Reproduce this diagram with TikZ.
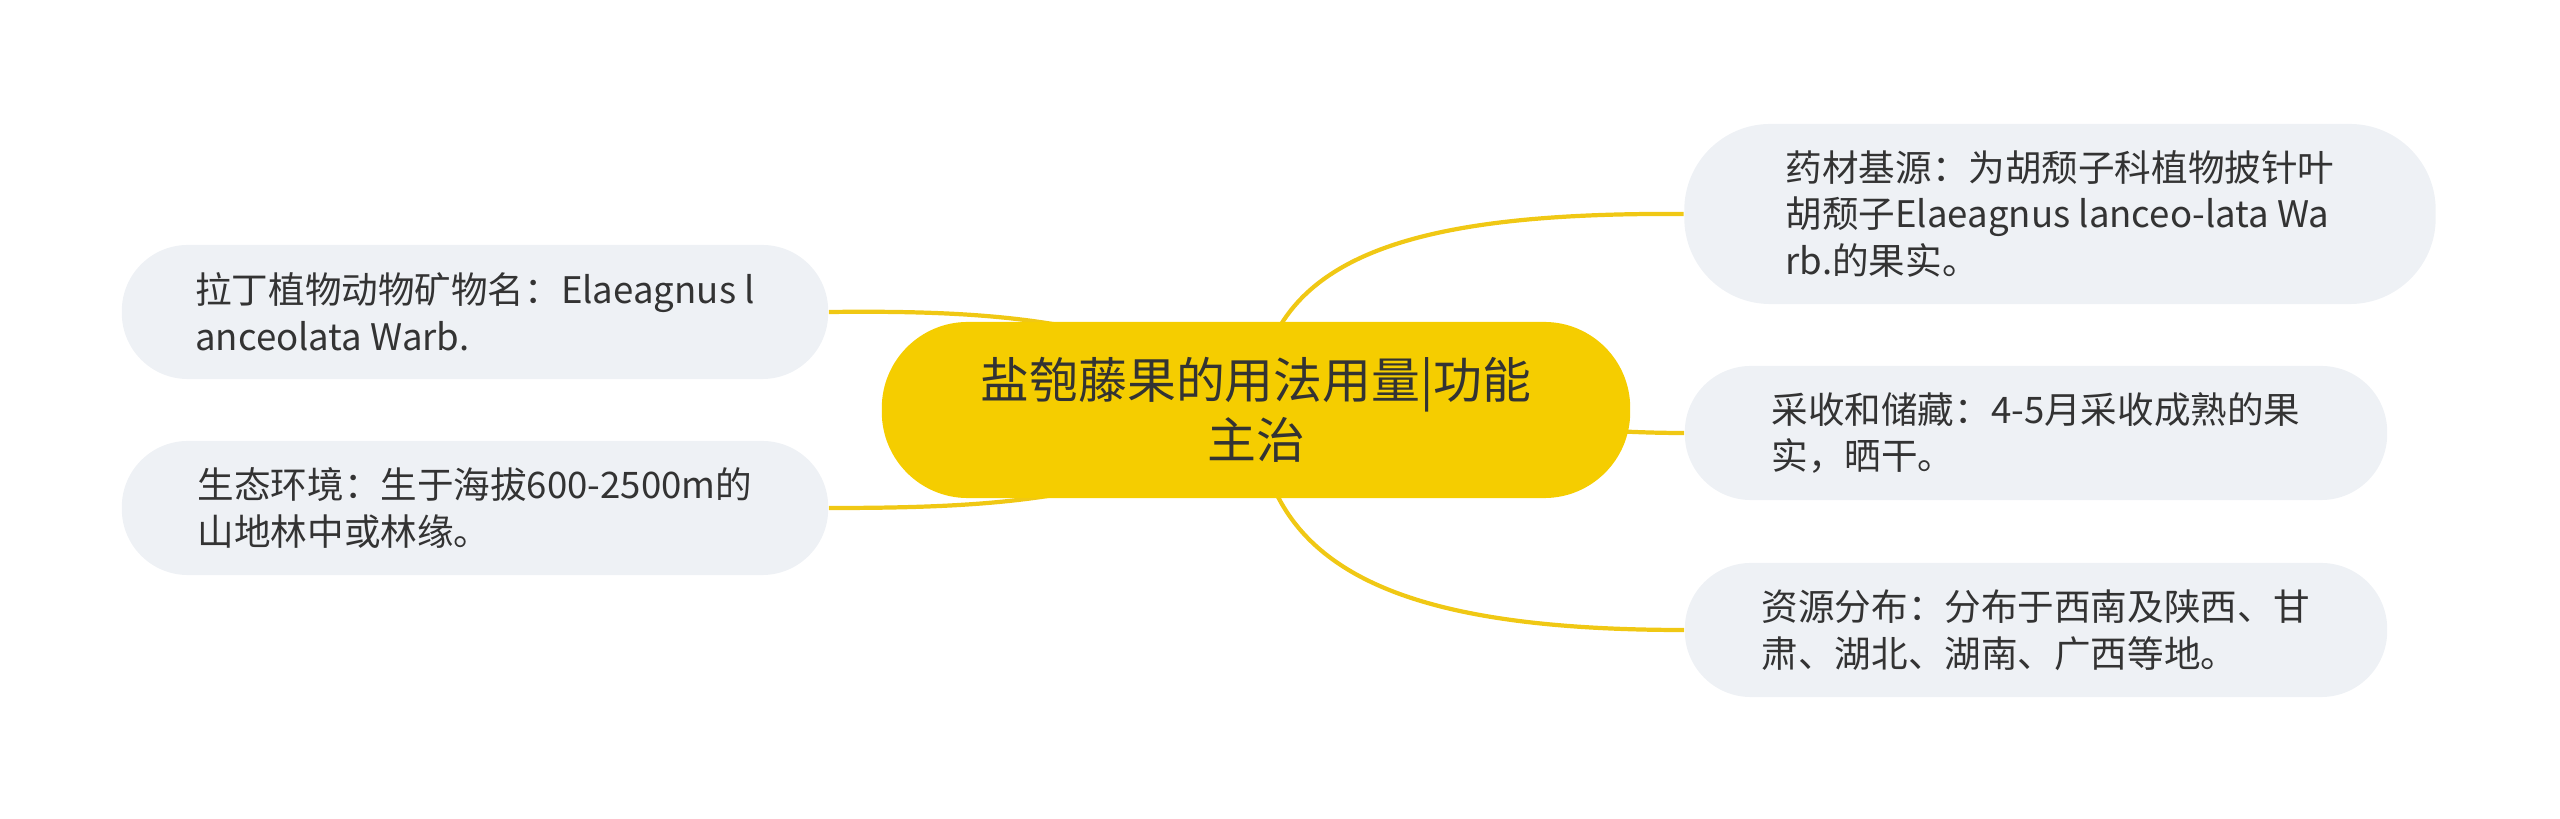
\documentclass[tikz,border=0pt]{standalone}
\usepackage{fontspec}
\usepackage{tikz}
\usetikzlibrary{positioning, backgrounds}
\newfontfamily\cjk{Noto Sans CJK SC}

\begin{document}
\begin{tikzpicture}[x=0.01cm, y=-0.01cm]

% ------------------------
% Colors
% ------------------------
\definecolor{colRoot}{RGB}{245,205,0}
\definecolor{colLeaf}{RGB}{238,241,245}
\definecolor{colLink}{RGB}{240,200,20}
\definecolor{colText}{RGB}{51,51,51}

\tikzset{
  root/.style={fill=colRoot, rounded corners=0.86cm, minimum width=7.48cm, minimum height=1.76cm,
    inner sep=0pt, align=center, text=colText, font=\cjk\fontsize{13.9}{17}\selectfont},
  leaf/.style={fill=colLeaf, rounded corners=0.66cm, minimum width=7.02cm, minimum height=1.34cm,
    inner sep=0pt, align=left, text=colText, font=\cjk\fontsize{10.4}{13.3}\selectfont},
  link/.style={draw=colLink, line width=1.2pt}
}

\useasboundingbox (0,0) rectangle (2560,819);

% ------------------------
% Centre topic
% ------------------------
\node[root] (root) at (1256,410) {盐匏藤果的用法用量|功能\\主治};

% ------------------------
% Right branches
% ------------------------
\node[leaf, minimum width=7.51cm, minimum height=1.80cm, rounded corners=0.86cm] (source) at (2060,214)
  {药材基源：为胡颓子科植物披针叶\\胡颓子Elaeagnus lanceo-lata Wa\\rb.的果实。};
\node[leaf] (harvest) at (2036,433) {采收和储藏：4-5月采收成熟的果\\实，晒干。};
\node[leaf] (spread) at (2036,630) {资源分布：分布于西南及陕西、甘\\肃、湖北、湖南、广西等地。};

% ------------------------
% Left branches
% ------------------------
\node[leaf, minimum width=7.06cm] (latin) at (475,312) {拉丁植物动物矿物名：Elaeagnus l\\anceolata Warb.};
\node[leaf, minimum width=7.06cm] (habitat) at (475,508) {生态环境：生于海拔600-2500m的\\山地林中或林缘。};

% connectors behind the nodes
\begin{scope}[on background layer]
\draw[link] (root.center) .. controls (1265,260) and (1400,212) .. (source.west);
\draw[link] (root.center) .. controls (1450,410) and (1550,433) .. (harvest.west);
\draw[link] (root.center) .. controls (1265,570) and (1400,630) .. (spread.west);
\draw[link] (root.center) .. controls (1150,320) and (1000,310) .. (latin.east);
\draw[link] (root.center) .. controls (1150,500) and (1000,508) .. (habitat.east);
\end{scope}

\end{tikzpicture}
\end{document}
